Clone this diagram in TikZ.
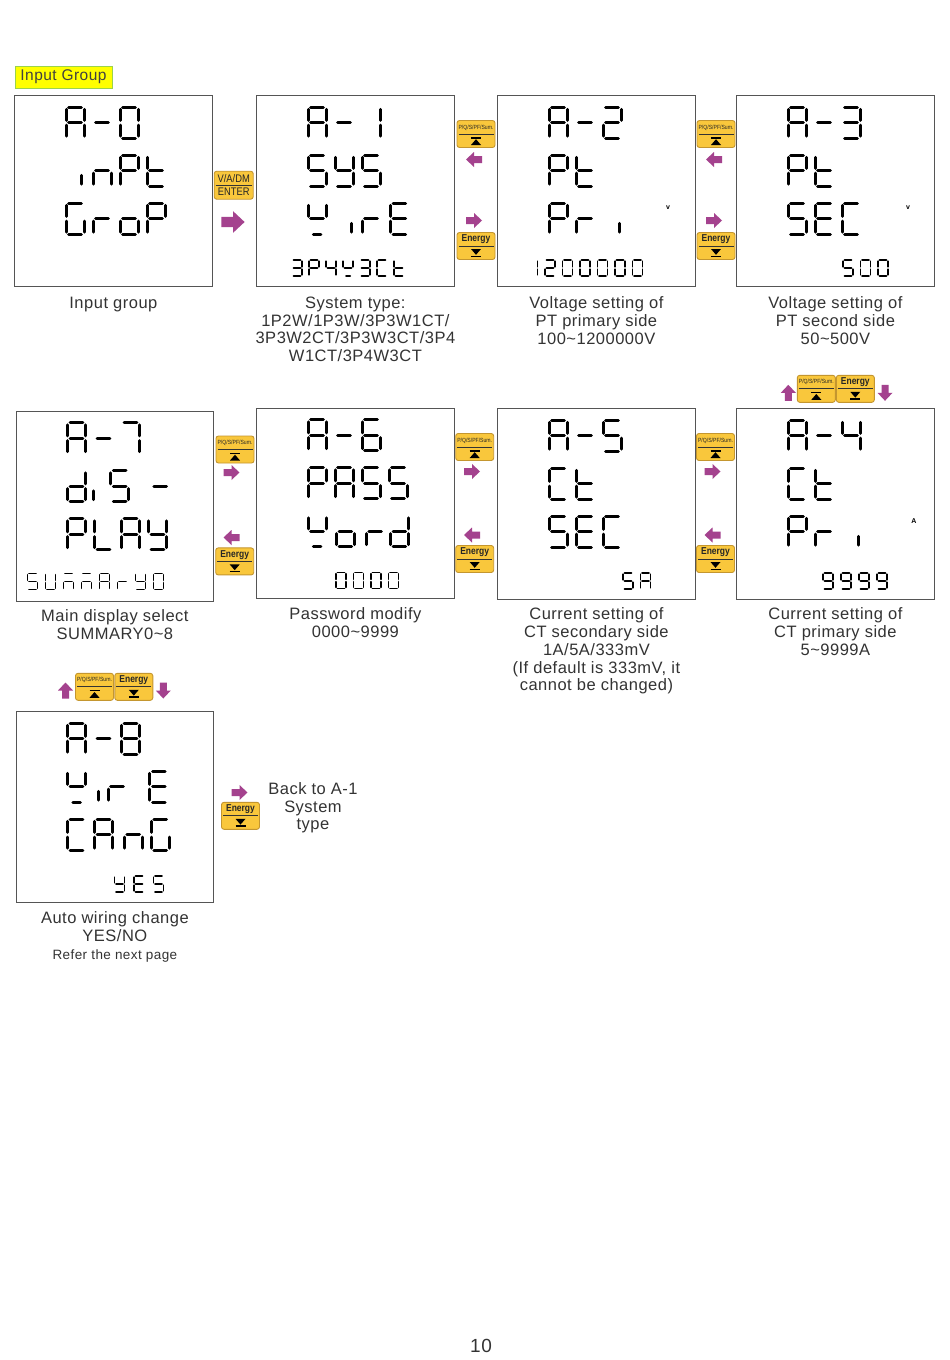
\documentclass[tikz,border=0pt]{standalone}
\usepackage{fontspec}
\setmainfont{Liberation Sans}
\newfontfamily\capfont[LetterSpace=3]{Liberation Sans}
\newfontfamily\keyfont[FakeStretch=0.85]{Liberation Sans}
\usetikzlibrary{positioning, calc}

\definecolor{keyfill}{HTML}{F9C73C}
\definecolor{keyedge}{HTML}{C4962F}
\definecolor{arrowc}{HTML}{A4428E}
\definecolor{textc}{HTML}{333333}
\definecolor{framec}{HTML}{555555}
\definecolor{tagfill}{HTML}{FFFF00}
\definecolor{tagedge}{HTML}{9BD34A}

% seven segment pieces (cell is 1 wide, 2 high, y down)
\tikzset{
    seg a/.style={insert path={(.15,0) -- (.85,0)}},
    seg b/.style={insert path={(1,.15) -- (1,.85)}},
    seg c/.style={insert path={(1,1.15) -- (1,1.85)}},
    seg d/.style={insert path={(.15,2) -- (.85,2)}},
    seg e/.style={insert path={(0,1.15) -- (0,1.85)}},
    seg f/.style={insert path={(0,.15) -- (0,.85)}},
    seg g/.style={insert path={(.15,1) -- (.85,1)}},
    seg i/.style={insert path={(0,1.3) -- (0,1.85)}},
    seg u/.style={insert path={(.3,2) -- (.72,2)}},
    lcd -/.style={seg g},
    lcd 0/.style={seg a, seg b, seg c, seg d, seg e, seg f},
    lcd 1/.style={seg b, seg c},
    lcd 2/.style={seg a, seg b, seg g, seg e, seg d},
    lcd 3/.style={seg a, seg b, seg g, seg c, seg d},
    lcd 4/.style={seg f, seg g, seg b, seg c},
    lcd 5/.style={seg a, seg f, seg g, seg c, seg d},
    lcd 6/.style={seg a, seg f, seg g, seg e, seg c, seg d},
    lcd 7/.style={seg a, seg b, seg c},
    lcd 8/.style={seg a, seg b, seg c, seg d, seg e, seg f, seg g},
    lcd 9/.style={seg a, seg b, seg c, seg d, seg f, seg g},
    lcd A/.style={seg a, seg b, seg c, seg e, seg f, seg g},
    lcd C/.style={seg a, seg f, seg e, seg d},
    lcd E/.style={seg a, seg f, seg g, seg e, seg d},
    lcd G/.style={seg a, seg f, seg e, seg d, seg c},
    lcd L/.style={seg f, seg e, seg d},
    lcd M/.style={seg a, seg g, seg e, seg c},
    lcd P/.style={seg a, seg b, seg f, seg g, seg e},
    lcd S/.style={lcd 5},
    lcd U/.style={seg b, seg c, seg d, seg e, seg f},
    lcd Y/.style={seg f, seg b, seg g, seg c, seg d},
    lcd d/.style={seg b, seg c, seg d, seg e, seg g},
    lcd i/.style={seg i},
    lcd n/.style={seg g, seg e, seg c},
    lcd o/.style={seg g, seg c, seg d, seg e},
    lcd r/.style={seg g, seg e},
    lcd t/.style={seg f, seg g, seg e, seg d},
    lcd w/.style={seg f, seg b, seg g, seg u}
}

% one row of lcd characters: x, y, pitch, style, pos/char list
\newcommand{\lcdrow}[5]{%
    \foreach \pos/\ch in {#5} {
        \pgfmathsetmacro{\cx}{#1+\pos*#3}
        \path[shift={(\cx,#2)}, #4, lcd \ch];
    }}

% block arrow: x, y, angle, scale
\newcommand{\barrow}[4]{%
    \fill[arrowc, shift={(#1,#2)}, rotate=#3, scale=#4]
        (-8,-3.5) -- (0,-3.5) -- (0,-7.5) -- (8,0) -- (0,7.5) -- (0,3.5) -- (-8,3.5) -- cycle;}

% P/Q/S/PF/Sum. key
\newcommand{\upkey}[3]{%
    \begin{scope}[shift={(#2,#3)}]
        \node[key] (#1) at (0,0) {};
        \node[keytext, font=\keyfont\fontsize{6}{6}\selectfont] (#1-t) at (0,-6.5) {P/Q/S/PF/Sum.};
        \draw[keyline] (-17.5,0) -- (17.5,0);
        \draw[line width=1.1pt] (-5,4) -- (5,4);
        \fill (-5,11) -- (5,11) -- (0,5.2) -- cycle;
    \end{scope}}

% Energy key
\newcommand{\downkey}[3]{%
    \begin{scope}[shift={(#2,#3)}]
        \node[key] (#1) at (0,0) {};
        \node[keytext, font=\keyfont\fontsize{10}{10}\bfseries] (#1-t) at (0,-6.5) {Energy};
        \draw[keyline] (-17.5,0) -- (17.5,0);
        \fill (-5,3) -- (5,3) -- (0,8.8) -- cycle;
        \draw[line width=1.1pt] (-5,10.2) -- (5,10.2);
    \end{scope}}

\begin{document}
\begin{tikzpicture}[x=1pt, y=-1pt]
    % Define styles
    \tikzset{
        screen/.style={
            rectangle,
            anchor=north west,
            minimum width=197.5pt,
            minimum height=190.5pt,
            draw=framec,
            line width=1.3pt,
            inner sep=0pt
        },
        big/.style={draw, line width=3pt, line cap=round, x=18pt, y=-15.7pt},
        small/.style={draw, line width=1.7pt, line cap=round, x=10pt, y=-8pt},
        caption/.style={font=\capfont\fontsize{16.5}{17.7}\selectfont, text=textc, align=center, inner sep=0pt},
        key/.style={draw=keyedge, fill=keyfill, line width=0.9pt, rounded corners=2.5pt,
            minimum width=38pt, minimum height=27pt, inner sep=0pt},
        keyline/.style={draw=black!80, line width=0.8pt},
        keytext/.style={inner sep=0pt, text=black!85},
        unit/.style={font=\fontsize{7}{7}\selectfont\bfseries, inner sep=0pt},
        tag/.style={fill=tagfill, draw=tagedge, line width=1pt, minimum width=97pt,
            minimum height=22pt, inner sep=0pt, text=black!75,
            font=\capfont\fontsize{15.5}{15.5}\selectfont}
    }

    \useasboundingbox[fill=white] (0,0) rectangle (950,1360);

    \node[tag] (grp) at (63.5,77) {Input Group};

    % ROW 1
    \begin{scope}[shift={(14,95)}]
        \node[screen] (a0) at (0,0) {};
        \lcdrow{52}{12}{27}{big}{0/A,1/-,2/0}
        \lcdrow{52}{60}{27}{big}{0.58/i,1/n,2/P,3/t}
        \lcdrow{52}{108}{27}{big}{0/G,1/r,2/o,3/P}
    \end{scope}
    \begin{scope}[shift={(256,95)}]
        \node[screen] (a1) at (0,0) {};
        \lcdrow{52}{12}{27}{big}{0/A,1/-,2/1}
        \lcdrow{52}{60}{27}{big}{0/S,1/Y,2/S}
        \lcdrow{52}{108}{27}{big}{0/w,1.6/i,2/r,3.05/E}
        \lcdrow{36}{165}{17}{small}{0/3,1/P,2/4,3/w,4/3,5/C,6/t}
    \end{scope}
    \begin{scope}[shift={(497,95)}]
        \node[screen] (a2) at (0,0) {};
        \lcdrow{52}{12}{27}{big}{0/A,1/-,2/2}
        \lcdrow{52}{60}{27}{big}{0/P,1/t}
        \lcdrow{52}{108}{27}{big}{0/P,1/r,2.62/i}
        \lcdrow{48}{165}{17.5}{small}{-1/1,0/2,1/0,2/0,3/0,4/0,5/0}
        \node[unit] (a2-v) at (171,113) {v};
    \end{scope}
    \begin{scope}[shift={(736,95)}]
        \node[screen] (a3) at (0,0) {};
        \lcdrow{52}{12}{27}{big}{0/A,1/-,2/3}
        \lcdrow{52}{60}{27}{big}{0/P,1/t}
        \lcdrow{52}{108}{27}{big}{0/S,1/E,2/C}
        \lcdrow{107}{165}{17.5}{small}{0/5,1/0,2/0}
        \node[unit] (a3-v) at (172,113) {v};
    \end{scope}

    % ROW 2
    \begin{scope}[shift={(15.5,410.5)}]
        \node[screen] (a7) at (0,0) {};
        \lcdrow{52}{12}{27}{big}{0/A,1/-,2/7}
        \lcdrow{52}{60}{27}{big}{0/d,0.96/i,1.6/S,3.1/-}
        \lcdrow{52}{108}{27}{big}{0/P,1/L,2/A,3/Y}
        \lcdrow{12}{163}{18}{small}{0/S,1/U,2/M,3/M,4/A,5/r,6/Y,7/0}
    \end{scope}
    \begin{scope}[shift={(256,407.5)}]
        \node[screen] (a6) at (0,0) {};
        \lcdrow{52}{12}{27}{big}{0/A,1/-,2/6}
        \lcdrow{52}{60}{27}{big}{0/P,1/A,2/S,3/S}
        \lcdrow{52}{108}{27}{big}{0/w,1.05/o,2.15/r,3.05/d}
        \lcdrow{80}{165}{17.5}{small}{0/0,1/0,2/0,3/0}
    \end{scope}
    \begin{scope}[shift={(497,408)}]
        \node[screen] (a5) at (0,0) {};
        \lcdrow{52}{12}{27}{big}{0/A,1/-,2/5}
        \lcdrow{52}{60}{27}{big}{0/C,1/t}
        \lcdrow{52}{108}{27}{big}{0/S,1/E,2/C}
        \lcdrow{126}{165}{17.5}{small}{0/5,1/A}
    \end{scope}
    \begin{scope}[shift={(736,408)}]
        \node[screen] (a4) at (0,0) {};
        \lcdrow{52}{12}{27}{big}{0/A,1/-,2/4}
        \lcdrow{52}{60}{27}{big}{0/C,1/t}
        \lcdrow{52}{108}{27}{big}{0/P,1/r,2.62/i}
        \lcdrow{87}{165}{18}{small}{0/9,1/9,2/9,3/9}
        \node[unit] (a4-a) at (178,113.5) {A};
    \end{scope}

    % ROW 3
    \begin{scope}[shift={(15.5,711)}]
        \node[screen] (a8) at (0,0) {};
        \lcdrow{52}{12}{27}{big}{0/A,1/-,2/8}
        \lcdrow{52}{60}{27}{big}{0/w,1.15/i,1.5/r,3.05/E}
        \lcdrow{52}{108}{27}{big}{0/C,1/A,2.1/n,3.1/G}
        \lcdrow{99}{165}{19.5}{small}{0/Y,1/E,2/S}
    \end{scope}

    % Captions
    \node[caption, below=10pt of a0] (c0) {Input group};
    \node[caption, below=10pt of a1] (c1) {System type:\\1P2W/1P3W/3P3W1CT/\\3P3W2CT/3P3W3CT/3P4\\W1CT/3P4W3CT};
    \node[caption, below=10pt of a2] (c2) {Voltage setting of\\PT primary side\\100\textasciitilde 1200000V};
    \node[caption, below=10pt of a3] (c3) {Voltage setting of\\PT second side\\50\textasciitilde 500V};
    \node[caption, below=7.5pt of a7] (c7) {Main display select\\SUMMARY0\textasciitilde 8};
    \node[caption, below=8pt of a6] (c6) {Password modify\\0000\textasciitilde 9999};
    \node[caption, below=8pt of a5] (c5) {Current setting of\\CT secondary side\\1A/5A/333mV\\(If default is 333mV, it\\cannot be changed)};
    \node[caption, below=8pt of a4] (c4) {Current setting of\\CT primary side\\5\textasciitilde 9999A};
    \node[caption, below=9pt of a8] (c8) {Auto wiring change\\YES/NO};
    \node[caption, font=\capfont\fontsize{13.5}{13.5}\selectfont, below=7pt of c8] (next) {Refer the next page};
    \node[caption] (back) at (313,808) {Back to A-1\\System\\type};

    % Keys and arrows between screens
    \begin{scope}[shift={(233.7,185.2)}]
        \node[key, minimum height=28pt, minimum width=39pt] (enter) at (0,0) {};
        \node[keytext, font=\keyfont\fontsize{11}{11}\selectfont] (enter-t) at (0,-6.8) {V/A/DM};
        \node[keytext, font=\keyfont\fontsize{11}{11}\selectfont] (enter-b) at (0,7) {ENTER};
        \draw[keyline] (-18,0) -- (18,0);
    \end{scope}
    \barrow{233}{222}{0}{1.45}

    \upkey{up12}{476}{134}
    \downkey{dn12}{476}{246}
    \barrow{474}{159.5}{180}{1}
    \barrow{474}{220.5}{0}{1}

    \upkey{up23}{716}{134}
    \downkey{dn23}{716}{246}
    \barrow{714}{159.5}{180}{1}
    \barrow{714}{220.5}{0}{1}

    \upkey{up76}{235}{449.5}
    \downkey{dn76}{234.7}{561.4}
    \barrow{231.5}{472.5}{0}{1}
    \barrow{231.5}{537.5}{180}{1}

    \upkey{up65}{474.7}{447}
    \downkey{dn65}{474.7}{559}
    \barrow{472}{471.5}{0}{1}
    \barrow{472}{535}{180}{1}

    \upkey{up54}{715.5}{447}
    \downkey{dn54}{715.5}{559}
    \barrow{712.5}{471.5}{0}{1}
    \barrow{712.5}{535}{180}{1}

    \upkey{up4}{816.3}{388.8}
    \downkey{dn4}{855.3}{388.8}
    \barrow{788.3}{392.8}{90}{1}
    \barrow{885}{392.8}{-90}{1}

    \upkey{up8}{94.5}{686.8}
    \downkey{dn8}{133.8}{686.8}
    \barrow{65.5}{690.5}{90}{1}
    \barrow{163.3}{690.5}{-90}{1}

    \downkey{dnback}{240.5}{815.8}
    \barrow{239.5}{792.5}{0}{1}

    % Page number
    \node[caption, font=\capfont\fontsize{19}{19}\selectfont] (page) at (481,1346) {10};
\end{tikzpicture}
\end{document}
